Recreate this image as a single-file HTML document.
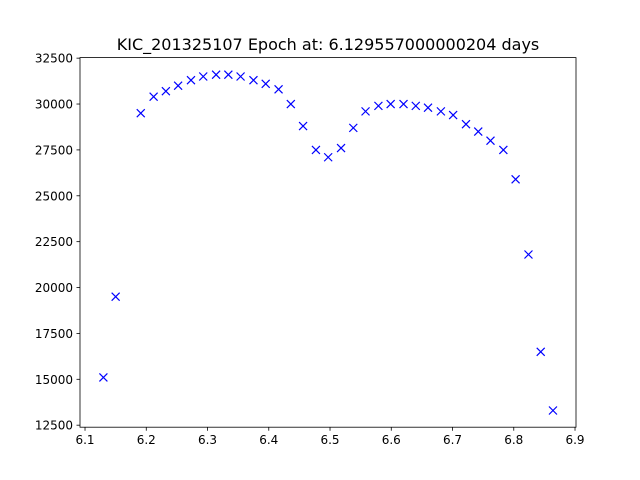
<!DOCTYPE html>
<html><head><meta charset="utf-8"><style>
html,body{margin:0;padding:0;background:#fff;}
svg{display:block;font-family:"DejaVu Sans","Liberation Sans",sans-serif;}
</style></head><body>
<svg id="chart" width="640" height="480" viewBox="0 0 640 480" xmlns="http://www.w3.org/2000/svg">
<rect width="640" height="480" fill="#fff"/>
<text x="328" y="50" text-anchor="middle" font-size="16">KIC_201325107 Epoch at: 6.129557000000204 days</text>
<g id="marks"></g>
<g id="axes"></g>
<rect x="80" y="57.6" width="496" height="369.6" fill="none" stroke="#000" stroke-width="0.8"/>
</svg>
<script>
const xValues = [6.130,6.150,6.191,6.212,6.232,6.252,6.273,6.293,6.314,6.334,6.354,6.375,6.395,6.416,6.436,6.456,6.477,6.497,6.518,6.538,6.558,6.579,6.599,6.620,6.640,6.660,6.681,6.701,6.722,6.742,6.762,6.783,6.803,6.824,6.844,6.864];
const fluxValues = [15100,19500,29500,30400,30700,31000,31300,31500,31600,31600,31500,31300,31100,30800,30000,28800,27500,27100,27600,28700,29600,29900,30000,30000,29900,29800,29600,29400,28900,28500,28000,27500,25900,21800,16500,13300];
const xTicks = [6.1,6.2,6.3,6.4,6.5,6.6,6.7,6.8,6.9];
const yTicks = [12500,15000,17500,20000,22500,25000,27500,30000,32500];

const X0=80,X1=576,Y0=427.2,Y1=57.6;
const xMin=6.0918,xMax=6.9016,yMin=12390,yMax=32530;
const sx=v=>X0+(v-xMin)/(xMax-xMin)*(X1-X0);
const sy=v=>Y0-(v-yMin)/(yMax-yMin)*(Y0-Y1);
const NS="http://www.w3.org/2000/svg";
const marks=document.getElementById('marks');
const axes=document.getElementById('axes');
function mk(tag,attrs,parent){const e=document.createElementNS(NS,tag);for(const k in attrs)e.setAttribute(k,attrs[k]);parent.appendChild(e);return e;}
xValues.forEach((xv,i)=>{
  const cx=sx(xv),cy=sy(fluxValues[i]),r=4;
  const g=mk('path',{d:`M${cx-r},${cy-r}L${cx+r},${cy+r}M${cx-r},${cy+r}L${cx+r},${cy-r}`,stroke:'#0000ff','stroke-width':1.2,fill:'none'},marks);
  
  
});
xTicks.forEach(t=>{
  const x=sx(t);
  const l=mk('line',{x1:x,x2:x,y1:Y0,y2:Y0+3.5,stroke:'#000','stroke-width':0.8},axes);
  
  
  const tx=mk('text',{x:x,y:Y0+17,'text-anchor':'middle','font-size':12},axes);
  tx.textContent=t.toFixed(1);
  
  
});
yTicks.forEach(t=>{
  const y=sy(t);
  const l=mk('line',{x1:X0-3.5,x2:X0,y1:y,y2:y,stroke:'#000','stroke-width':0.8},axes);
  
  
  const tx=mk('text',{x:X0-7,y:y+4.5,'text-anchor':'end','font-size':12},axes);
  tx.textContent=String(t);
  
  
});
</script>
</body></html>
